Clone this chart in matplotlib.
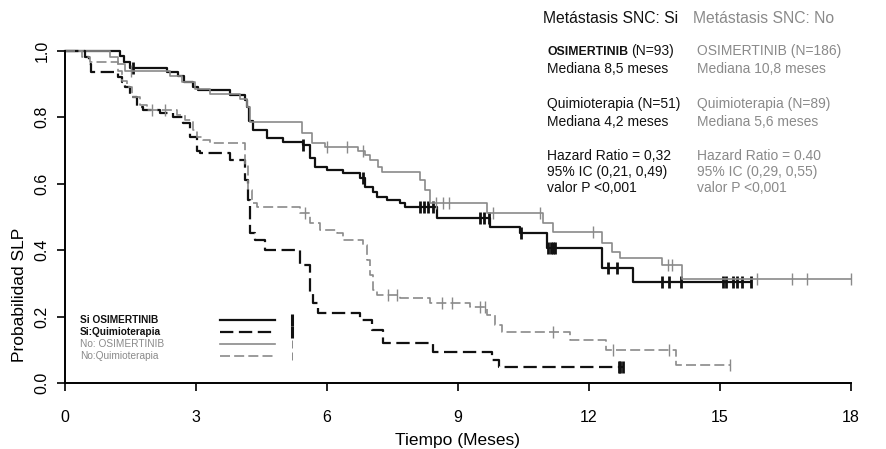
import numpy as np
import matplotlib
matplotlib.use("Agg")
import matplotlib.pyplot as plt

plt.rcParams['font.family'] = ['Liberation Sans', 'DejaVu Sans']

# Kaplan-Meier curves: step times (months), survival after each step
si_osi_t = [1.26, 1.35, 1.49, 2.33, 2.59, 2.72, 2.93, 3.04, 3.78, 4.12, 4.16, 4.21, 4.30,
            4.62, 4.99, 5.45, 5.61, 5.72, 6.0, 6.36, 6.75, 6.86, 7.05, 7.14, 7.37, 7.67,
            7.78, 8.51, 9.73, 10.41, 11.05, 12.31, 13.0]
si_osi_s = [0.984, 0.966, 0.948, 0.936, 0.924, 0.906, 0.89, 0.881, 0.867, 0.852, 0.83, 0.79,
            0.761, 0.737, 0.725, 0.716, 0.677, 0.65, 0.641, 0.632, 0.617, 0.59, 0.575, 0.56,
            0.551, 0.542, 0.53, 0.497, 0.47, 0.452, 0.407, 0.347, 0.304]
si_osi_cens = [1.56, 5.45, 6.82, 8.12, 8.22, 8.32, 8.42, 9.5, 9.6, 9.7, 10.45, 11.07, 11.12,
               11.17, 11.22, 12.43, 12.65, 13.68, 13.84, 14.12, 15.06, 15.15, 15.3, 15.4,
               15.5, 15.72]
si_osi_end = 15.72

no_osi_t = [1.03, 1.21, 1.37, 2.4, 2.68, 2.97, 3.32, 4.0, 4.16, 4.23, 5.42, 5.65, 5.95, 6.7,
            6.86, 6.98, 7.16, 7.25, 8.12, 8.24, 8.35, 9.66, 10.94, 11.17, 12.31, 12.52, 12.7,
            13.68, 14.14]
no_osi_s = [0.98, 0.96, 0.94, 0.925, 0.905, 0.885, 0.87, 0.855, 0.83, 0.786, 0.752, 0.722,
            0.71, 0.7, 0.686, 0.671, 0.65, 0.635, 0.611, 0.581, 0.542, 0.512, 0.482, 0.455,
            0.422, 0.395, 0.377, 0.356, 0.313]
no_osi_cens = [1.5, 6.0, 6.45, 6.82, 8.5, 8.65, 8.8, 9.8, 10.87, 12.1, 13.8, 13.9, 15.84,
               16.66, 17.0, 18.0]
no_osi_end = 18.0

si_qt_t = [0.45, 0.55, 0.6, 1.21, 1.3, 1.37, 1.49, 1.65, 1.78, 2.17, 2.47, 2.7, 2.86, 3.02,
           3.09, 3.78, 4.12, 4.19, 4.23, 4.35, 4.58, 5.38, 5.61, 5.67, 5.79, 6.75, 7.03, 7.28,
           8.42, 9.79, 9.95]
si_qt_s = [0.98, 0.96, 0.936, 0.921, 0.906, 0.89, 0.86, 0.83, 0.821, 0.812, 0.8, 0.782, 0.74,
           0.7, 0.692, 0.671, 0.611, 0.551, 0.452, 0.431, 0.4, 0.356, 0.272, 0.241, 0.211,
           0.19, 0.16, 0.121, 0.094, 0.07, 0.05]
si_qt_cens = [12.68, 12.72, 12.77]
si_qt_end = 12.77

no_qt_t = [0.39, 0.57, 1.21, 1.3, 1.42, 1.53, 1.72, 1.88, 2.56, 2.75, 2.93, 3.02, 3.16, 3.32,
           4.12, 4.19, 4.28, 4.39, 5.38, 5.61, 5.84, 6.22, 6.36, 6.82, 6.91, 6.98, 7.05, 7.14,
           7.67, 8.35, 9.27, 9.66, 9.84, 10.02, 11.56, 12.4, 14.0]
no_qt_s = [0.98, 0.965, 0.94, 0.91, 0.89, 0.86, 0.836, 0.821, 0.806, 0.791, 0.761, 0.74,
           0.731, 0.722, 0.656, 0.581, 0.542, 0.53, 0.512, 0.482, 0.461, 0.452, 0.431, 0.416,
           0.371, 0.326, 0.28, 0.266, 0.257, 0.241, 0.229, 0.205, 0.175, 0.154, 0.13, 0.1,
           0.055]
no_qt_cens = [2.0, 2.3, 5.49, 7.4, 7.6, 8.63, 8.86, 9.5, 9.61, 11.17, 12.54, 13.84, 15.24]
no_qt_end = 15.26

legend_labels = ['Si OSIMERTINIB', 'Si:Quimioterapia', 'No: OSIMERTINIB', 'No:Quimioterapia']

BLACK = '#111111'
GRAY = '#8a8a8a'

fig = plt.figure(figsize=(8.87, 4.49), dpi=100)
ax = fig.add_axes([0.0733, 0.1463, 0.886, 0.7407])


def km(ax, t, s, cens, end, color, ls, lw, mew, ms):
    tt = np.r_[0, t, end]
    ss = np.r_[1.0, s, s[-1]]
    line, = ax.step(tt, ss, where='post', color=color, ls=ls, lw=lw, clip_on=False)
    idx = np.searchsorted(tt, cens, side='right') - 1
    ax.plot(cens, ss[idx], ls='none', marker='|', ms=ms, mew=mew, color=color, clip_on=False)
    return line


dash_b = (0, (6, 2.5))
styles = [
    (BLACK, '-', 1.6, 2.0, 9),
    (BLACK, dash_b, 1.6, 2.0, 9),
    (GRAY, '-', 1.2, 1.0, 8),
    (GRAY, dash_b, 1.2, 1.0, 8),
]
km(ax, si_osi_t, si_osi_s, si_osi_cens, si_osi_end, *styles[0])
km(ax, no_osi_t, no_osi_s, no_osi_cens, no_osi_end, *styles[2])
km(ax, si_qt_t, si_qt_s, si_qt_cens, si_qt_end, *styles[1])
km(ax, no_qt_t, no_qt_s, no_qt_cens, no_qt_end, *styles[3])

ax.set_xlim(0, 18)
ax.set_ylim(0, 1.0)
ax.set_xticks([0, 3, 6, 9, 12, 15, 18])
ax.set_yticks([0.0, 0.2, 0.4, 0.6, 0.8, 1.0])
ax.set_yticklabels(['0.0', '0.2', '0.4', '0.6', '0.8', '1.0'], rotation=90, va='center')
ax.tick_params(axis='both', direction='out', length=6, width=1.2, labelsize=11.5)
ax.tick_params(axis='x', pad=13)
ax.tick_params(axis='y', pad=5)
ax.spines['top'].set_visible(False)
ax.spines['right'].set_visible(False)
ax.spines['left'].set_linewidth(1.4)
ax.spines['bottom'].set_linewidth(1.4)
ax.set_xlabel('Tiempo (Meses)', fontsize=12.5, labelpad=6)
ax.set_ylabel('Probabilidad SLP', fontsize=12.5)
ax.yaxis.set_label_coords(-0.049, 0.265)

# legend drawn by hand: label, line sample, censor tick
leg_y = [0.19, 0.154, 0.117, 0.081]
for i, lab in enumerate(legend_labels):
    col, ls, lw, mew, ms = styles[i]
    ax.text(0.019, leg_y[i], lab, transform=ax.transAxes, fontsize=7.3, color=col,
            fontweight='bold' if i < 2 else 'normal', va='center')
    ax.plot([0.197, 0.267], [leg_y[i], leg_y[i]], transform=ax.transAxes, color=col,
            ls=ls, lw=lw)
    ax.plot([0.289], [leg_y[i]], transform=ax.transAxes, ls='none', marker='|',
            ms=9 if i < 2 else 6, mew=2.2 if i < 2 else 0.7, color=col)

# annotation block, top right
fs = 10
fig.text(0.612, 0.948, 'Metástasis SNC: Si', color=BLACK, fontsize=11.3)
fig.text(0.781, 0.948, 'Metástasis SNC: No', color=GRAY, fontsize=11.3)

col_x = [0.617, 0.786]
cols = [BLACK, GRAY]
y0 = 0.877
t_osi = fig.text(col_x[0], y0, 'OSIMERTINIB', color=BLACK, fontsize=8.8, fontweight='bold')
fig.text(col_x[0] + 0.0, y0, '', fontsize=fs)
ax.annotate('(N=93)', xy=(1, 0), xycoords=t_osi, xytext=(2, 0), textcoords='offset points',
            color=BLACK, fontsize=fs, va='bottom', ha='left', annotation_clip=False)
fig.text(col_x[1], y0, 'OSIMERTINIB (N=186)', color=GRAY, fontsize=fs)
fig.text(col_x[0], y0 - 0.04, 'Mediana 8,5 meses', color=BLACK, fontsize=fs)
fig.text(col_x[1], y0 - 0.04, 'Mediana 10,8 meses', color=GRAY, fontsize=fs)

y1 = 0.76
fig.text(col_x[0], y1, 'Quimioterapia (N=51)', color=BLACK, fontsize=fs)
fig.text(col_x[1], y1, 'Quimioterapia (N=89)', color=GRAY, fontsize=fs)
fig.text(col_x[0], y1 - 0.04, 'Mediana 4,2 meses', color=BLACK, fontsize=fs)
fig.text(col_x[1], y1 - 0.04, 'Mediana 5,6 meses', color=GRAY, fontsize=fs)

hr = [['Hazard Ratio = 0,32', '95% IC (0,21, 0,49)', 'valor P <0,001'],
      ['Hazard Ratio = 0.40', '95% IC (0,29, 0,55)', 'valor P <0,001']]
for ci in range(2):
    for li, s in enumerate(hr[ci]):
        fig.text(col_x[ci], 0.643 - li * 0.035, s, color=cols[ci], fontsize=fs)

fig.savefig('out.png', dpi=100)
